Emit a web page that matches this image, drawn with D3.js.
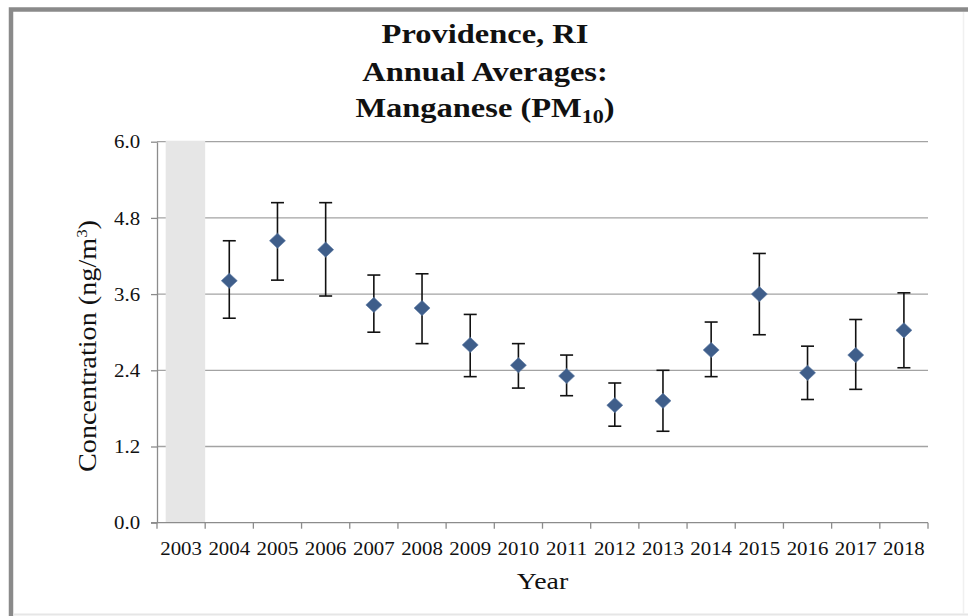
<!DOCTYPE html>
<html>
<head>
<meta charset="utf-8">
<script src="https://cdn.jsdelivr.net/npm/d3@7/dist/d3.min.js"></script>
<style>
  html, body { margin: 0; padding: 0; background: #fff; }
  svg { display: block; }
  text { font-family: "Liberation Serif", "Times New Roman", serif; fill: #111; }
</style>
</head>
<body>
<svg id="chart" width="968" height="616"></svg>
<script>
// ---- data ----
const years = ["2003","2004","2005","2006","2007","2008","2009","2010","2011","2012","2013","2014","2015","2016","2017","2018"];
const dataYears = ["2004","2005","2006","2007","2008","2009","2010","2011","2012","2013","2014","2015","2016","2017","2018"];
const means = [3.81, 4.44, 4.30, 3.43, 3.38, 2.80, 2.48, 2.31, 1.85, 1.92, 2.72, 3.60, 2.36, 2.64, 3.03];
const upper = [4.44, 5.04, 5.04, 3.90, 3.92, 3.28, 2.82, 2.64, 2.20, 2.40, 3.16, 4.24, 2.78, 3.20, 3.62];
const lower = [3.22, 3.82, 3.57, 3.00, 2.82, 2.30, 2.12, 2.00, 1.52, 1.44, 2.30, 2.96, 1.94, 2.10, 2.44];
const shadedYears = ["2003"];
const yTicks = [0, 1.2, 2.4, 3.6, 4.8, 6.0];
const titleLines = ["Providence, RI", "Annual Averages:"];
const yTitle = "Concentration (ng/m";
const xTitle = "Year";

(function () {
const svg = d3.select("#chart");
const W = 968, H = 616;
const pL = 157, pR = 928, pT = 141.7, pB = 522.7;
const SX = 1.16;

// frame
svg.append("path")
  .attr("d", `M11,${H} L11,9.5 L${W},9.5`)
  .attr("fill", "none").attr("stroke", "#8a8a8a").attr("stroke-width", 4.5);
svg.append("line").attr("x1", 13).attr("x2", W).attr("y1", 614.5).attr("y2", 614.5)
  .attr("stroke", "#e6e6e6").attr("stroke-width", 2);
svg.append("line").attr("x1", 963.5).attr("x2", 963.5).attr("y1", 12).attr("y2", 614)
  .attr("stroke", "#f0f0f0").attr("stroke-width", 1.5);

const x = d3.scaleBand().domain(years).range([pL, pR]).padding(0);
const y = d3.scaleLinear().domain([0, 6]).range([pB, pT]);

// gridlines
svg.append("g").selectAll("line").data(yTicks.filter(d => d > 0)).join("line")
  .attr("x1", pL).attr("x2", pR)
  .attr("y1", d => y(d)).attr("y2", d => y(d))
  .attr("stroke", "#a3a3a3").attr("stroke-width", 1.3);

// shaded (no data) band
svg.append("g").selectAll("rect").data(shadedYears).join("rect")
  .attr("x", d => x(d) + x.bandwidth() * 0.18)
  .attr("width", x.bandwidth() * 0.82)
  .attr("y", y(6) - 1)
  .attr("height", y(0) - y(6) + 1)
  .attr("fill", "#e6e6e6");

// y axis
const yAxis = svg.append("g").attr("transform", `translate(${pL},0)`)
  .call(d3.axisLeft(y).tickValues(yTicks).tickFormat(d3.format(".1f")).tickSize(6).tickSizeOuter(0));
yAxis.select(".domain").attr("stroke", "#8c8c8c").attr("stroke-width", 1.3);
yAxis.selectAll(".tick line").attr("stroke", "#8c8c8c").attr("stroke-width", 1.3);
yAxis.selectAll(".tick text")
  .attr("x", -14.5).attr("dy", "0.34em")
  .attr("transform", `scale(${SX},1)`)
  .style("font-size", "18px").style("font-family", "Liberation Serif").attr("fill", "#111");

// x axis
const xAxis = svg.append("g").attr("transform", `translate(0,${pB})`)
  .call(d3.axisBottom(x).tickSize(0).tickPadding(0));
xAxis.select(".domain").attr("d", `M${pL - 6},0H${pR}`).attr("stroke", "#8c8c8c").attr("stroke-width", 1.3);
xAxis.selectAll(".tick text")
  .attr("y", 32).attr("dy", 0)
  .attr("transform", `scale(${SX},1)`)
  .style("font-size", "18px").style("font-family", "Liberation Serif").attr("fill", "#111");
// boundary ticks
const edges = years.map(d => x(d)).concat([x(years[years.length - 1]) + x.bandwidth()]);
xAxis.append("g").selectAll("line").data(edges).join("line")
  .attr("x1", d => d).attr("x2", d => d).attr("y1", 0).attr("y2", 6)
  .attr("stroke", "#8c8c8c").attr("stroke-width", 1.3);

// error bars
const pts = dataYears.map((yr, i) => ({ yr, m: means[i], hi: upper[i], lo: lower[i] }));
const cx = d => x(d.yr) + x.bandwidth() / 2;
const eb = svg.append("g").attr("stroke", "#111").attr("stroke-width", 1.6);
eb.selectAll("line.v").data(pts).join("line").attr("class", "v")
  .attr("x1", cx).attr("x2", cx).attr("y1", d => y(d.hi)).attr("y2", d => y(d.lo));
eb.selectAll("line.t").data(pts).join("line").attr("class", "t")
  .attr("x1", d => cx(d) - 6.5).attr("x2", d => cx(d) + 6.5).attr("y1", d => y(d.hi)).attr("y2", d => y(d.hi));
eb.selectAll("line.b").data(pts).join("line").attr("class", "b")
  .attr("x1", d => cx(d) - 6.5).attr("x2", d => cx(d) + 6.5).attr("y1", d => y(d.lo)).attr("y2", d => y(d.lo));

// diamonds
const diamond = {
  draw(ctx, size) {
    const r = Math.sqrt(size / 2);
    ctx.moveTo(0, -r * 0.95); ctx.lineTo(r, 0); ctx.lineTo(0, r * 0.95); ctx.lineTo(-r, 0); ctx.closePath();
  }
};
svg.append("g").selectAll("path").data(pts).join("path")
  .attr("transform", d => `translate(${cx(d)},${y(d.m)})`)
  .attr("d", d3.symbol().type(diamond).size(128))
  .attr("fill", "#3f5e8a").attr("stroke", "#5a78a3").attr("stroke-width", 0.6);

// title
const titleX = 485;
const tg = svg.append("g");
const tBase = [43.3, 81, 117.3];
titleLines.forEach((t, i) => {
  tg.append("text").attr("transform", `translate(${titleX},${tBase[i]}) scale(${SX},1)`)
    .attr("text-anchor", "middle").style("font-size", "28px").style("font-weight", "bold").text(t);
});
const t3 = tg.append("text").attr("transform", `translate(${titleX},${tBase[2]}) scale(${SX},1)`)
  .attr("text-anchor", "middle").style("font-size", "28px").style("font-weight", "bold");
t3.append("tspan").text("Manganese (PM");
t3.append("tspan").attr("dy", 6).style("font-size", "19px").text("10");
t3.append("tspan").attr("dy", -6).text(")");

// y title
const yt = svg.append("text")
  .attr("transform", `translate(96,346) rotate(-90)`)
  .attr("text-anchor", "middle").style("font-size", "25px")
  .attr("textLength", 252).attr("lengthAdjust", "spacingAndGlyphs");
yt.append("tspan").text(yTitle);
yt.append("tspan").attr("dy", -9).style("font-size", "15px").text("3");
yt.append("tspan").attr("dy", 9).text(")");

// x title
svg.append("text")
  .attr("transform", `translate(${(pL + pR) / 2},589) scale(${SX},1)`)
  .attr("text-anchor", "middle").style("font-size", "24px").text(xTitle);
})();
</script>
</body>
</html>
